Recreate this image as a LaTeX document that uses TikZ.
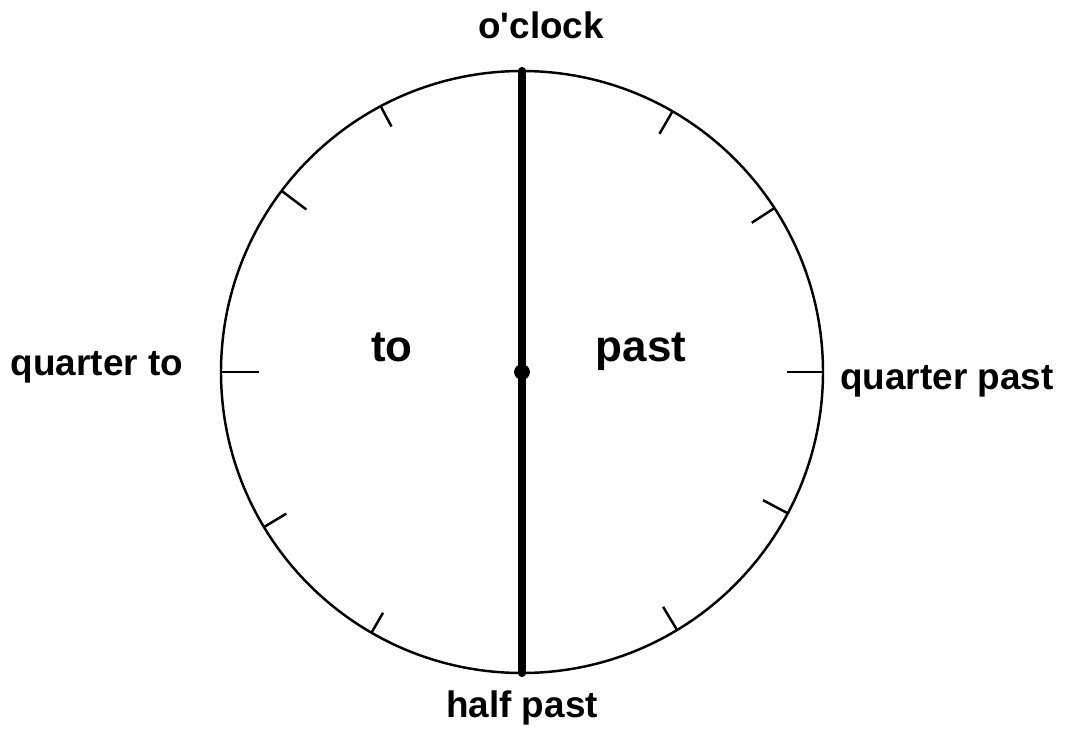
\documentclass[tikz,border=0pt]{standalone}
\usepackage{fontspec}
\setmainfont{Liberation Sans}
\usepackage{tikz}
\usetikzlibrary{positioning,calc}

\begin{document}
\begin{tikzpicture}[x=0.02cm, y=-0.02cm, font=\bfseries]
  \def\rad{301}
  \tikzset{
    face/.style={line width=1.4pt},
    hand/.style={line width=4.7pt, line cap=round},
    lbl/.style={font=\fontsize{21}{24}\bfseries\selectfont, inner sep=0pt},
    side/.style={font=\fontsize{25}{28}\bfseries\selectfont, inner sep=0pt, anchor=base}
  }
  \useasboundingbox (0,0) rectangle (1066,731);
  \coordinate (ctr) at (522,372);
  \draw[face] (ctr) circle (\rad);
  % hand-placed ticks: angle (y down) / length
  \foreach \a/\l in {0/36,-33/27,-60/26,-118/23,-143/31,180/38,-211/26,-240/23,-301/27,-332/28}{
    \draw[face] ($(ctr)+(\a:\rad)$) -- ($(ctr)+(\a:{\rad-\l})$);
  }
  \coordinate (twelve) at ($(ctr)+(0,-\rad)$);
  \coordinate (six) at ($(ctr)+(0,\rad)$);
  \draw[hand] (twelve) -- (six);
  \node[circle, fill, inner sep=0pt, minimum size=9pt] (pin) at (ctr) {};
  % labels round the face
  \node[lbl] (oclock) at (541,25) {o\textquotesingle clock};
  \node[lbl] (qto) at (97,367) {quarter to};
  \node[lbl] (qpast) at (947,381) {quarter past};
  \node[lbl] (half) at (522,708) {half past};
  \node[side] (to) at (392,361) {to};
  \node[side] (past) at (641,361) {past};
\end{tikzpicture}
\end{document}
